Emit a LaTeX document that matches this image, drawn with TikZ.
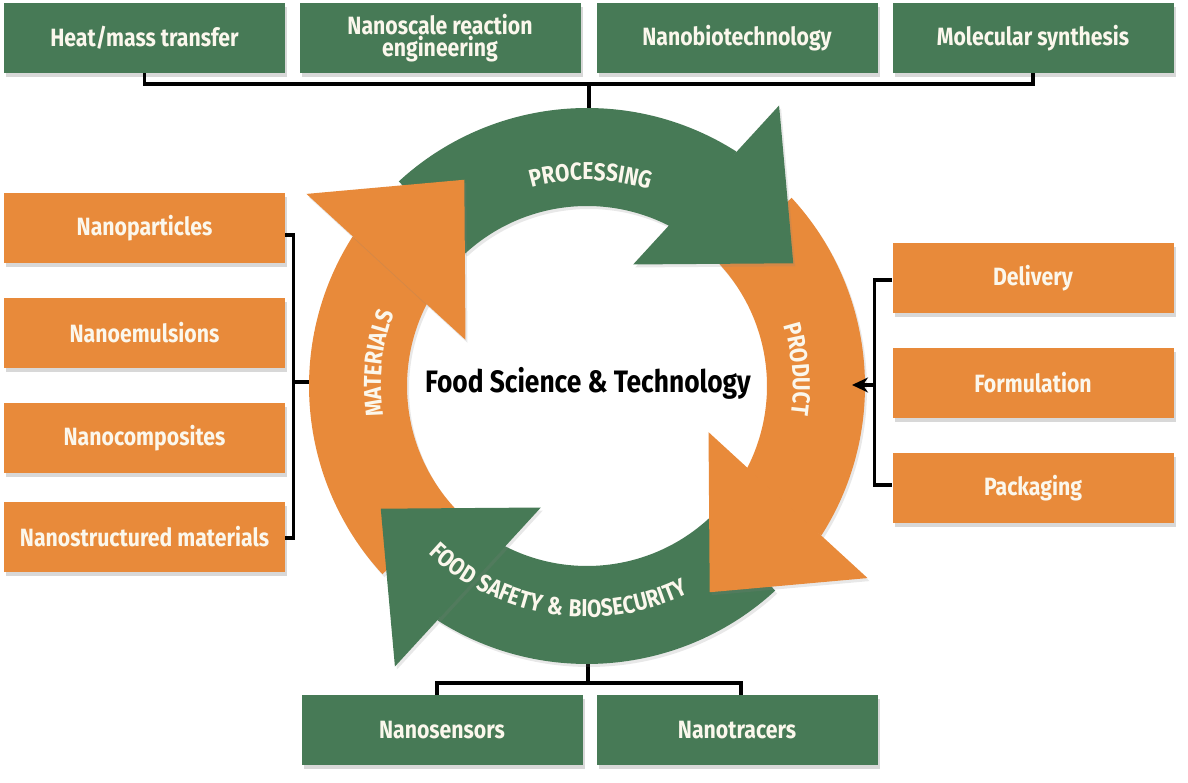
\documentclass[tikz,border=0pt]{standalone}
\usepackage{fontspec}
\setmainfont{Fira Sans}[FakeStretch=0.85]
\newfontfamily\arcfont{Fira Sans}[FakeStretch=0.85,LetterSpace=6]
\usetikzlibrary{decorations.text,shadows,arrows.meta,calc}
\definecolor{gr}{HTML}{477A56}
\definecolor{og}{HTML}{E88A3A}
\definecolor{cream}{HTML}{FBF7EC}
\newcommand{\boxfont}{\bfseries\fontsize{25}{22}\selectfont}
\newcommand{\arcstyle}{\arcfont\bfseries\fontsize{24.5}{26}\selectfont}
\tikzset{
 box/.style={minimum width=281pt, minimum height=70pt, inner sep=0pt, text=cream, font=\boxfont, align=center,
   drop shadow={opacity=0.3, shadow xshift=2pt, shadow yshift=-4pt}},
 gbox/.style={box, fill=gr},
 obox/.style={box, fill=og},
 conn/.style={line width=3.2pt, black},
 ashadow/.style={drop shadow={opacity=0.18, shadow xshift=2pt, shadow yshift=-3pt}},
}
\begin{document}
\begin{tikzpicture}[x=1pt,y=1pt]
\useasboundingbox (0,0) rectangle (1188,783);
\fill[white] (0,0) rectangle (1188,783);
% boxes
\node[gbox] (heat) at (144.5,745) {Heat/mass transfer};
\node[gbox] (nre) at (440,745) {Nanoscale reaction\\engineering};
\node[gbox] (nbt) at (737,745) {Nanobiotechnology};
\node[gbox] (mol) at (1033,745) {Molecular synthesis};
\node[obox] (npart) at (144.5,555) {Nanoparticles};
\node[obox] (nemul) at (144.5,450) {Nanoemulsions};
\node[obox] (ncomp) at (144.5,345) {Nanocomposites};
\node[obox] (nstruc) at (144.5,246) {Nanostructured materials};
\node[obox] (deliv) at (1033,504.5) {Delivery};
\node[obox] (form) at (1033,400) {Formulation};
\node[obox] (pack) at (1033,295) {Packaging};
\node[gbox] (sens) at (442,53) {Nanosensors};
\node[gbox] (trac) at (737,53) {Nanotracers};
% connectors
\coordinate (topjoin) at (589,699);
\coordinate (ringtop) at (589,674);
\coordinate (lbar) at (293.5,401);
\coordinate (ringleft) at (311,401);
\coordinate (rbar) at (874.5,398);
\coordinate (ringright) at (852,398);
\coordinate (ringbot) at (588,120);
\coordinate (botjoin) at (588,100);
\draw[conn] (heat.south) |- (topjoin) -| (mol.south);
\draw[conn] (topjoin) -- (ringtop);
\draw[conn] ([yshift=-7pt]npart.east) -- ++(8,0) |- ([yshift=-1pt]nstruc.east);
\draw[conn] (lbar) -- (ringleft);
\draw[conn] ([yshift=-1.5pt]deliv.west) -- ++(-18,0) |- ([yshift=3pt]pack.west);
\draw[conn] (ringbot) -- (botjoin);
\draw[conn] ([xshift=-5pt]sens.north) |- (botjoin) -| ([xshift=4pt]trac.north);
% ring arrows
\begin{scope}[shift={(587,397)}]
\foreach \t/\c in {55.6/gr, -34.4/og, -124.4/gr, 145.6/og} {
  \fill[\c, ashadow] ({\t+77}:278) arc[start angle={\t+77}, end angle={\t+1.9}, radius=278]
     -- ({\t+1.9}:180) arc[start angle={\t+1.9}, end angle={\t+77}, radius=180] -- cycle;
}
\foreach \t/\c in {55.6/gr, -34.4/og, -124.4/gr, 145.6/og} {
  \fill[\c, ashadow] ({\t}:340) -- ({\t-24.85}:240) -- ({\t+13.6}:130) -- cycle;
}
\path[decorate, decoration={text along path, text align=center, text color=cream,
   text={|\arcstyle|PROCESSING}}] (119:206) arc[start angle=119, end angle=59, radius=206];
\path[decorate, decoration={text along path, text align=center, text color=cream,
   text={|\arcstyle|PRODUCT}}] (34.6:206) arc[start angle=34.6, end angle=-25.4, radius=206];
\path[decorate, decoration={text along path, text align=center, text color=cream,
   text={|\arcstyle|MATERIALS}}] (203.8:206) arc[start angle=203.8, end angle=143.8, radius=206];
\path[decorate, decoration={text along path, text align=center, text color=cream,
   text={|\arcstyle|FOOD SAFETY {\&} BIOSECURITY}}] (211.4:231) arc[start angle=211.4, end angle=311.4, radius=231];
\end{scope}
\draw[conn, -{Stealth[length=16pt,width=15pt]}] (rbar) -- (ringright);
\node[font=\bfseries\fontsize{31}{36}\selectfont] (title) at (588,400) {Food Science \& Technology};
\end{tikzpicture}
\end{document}
